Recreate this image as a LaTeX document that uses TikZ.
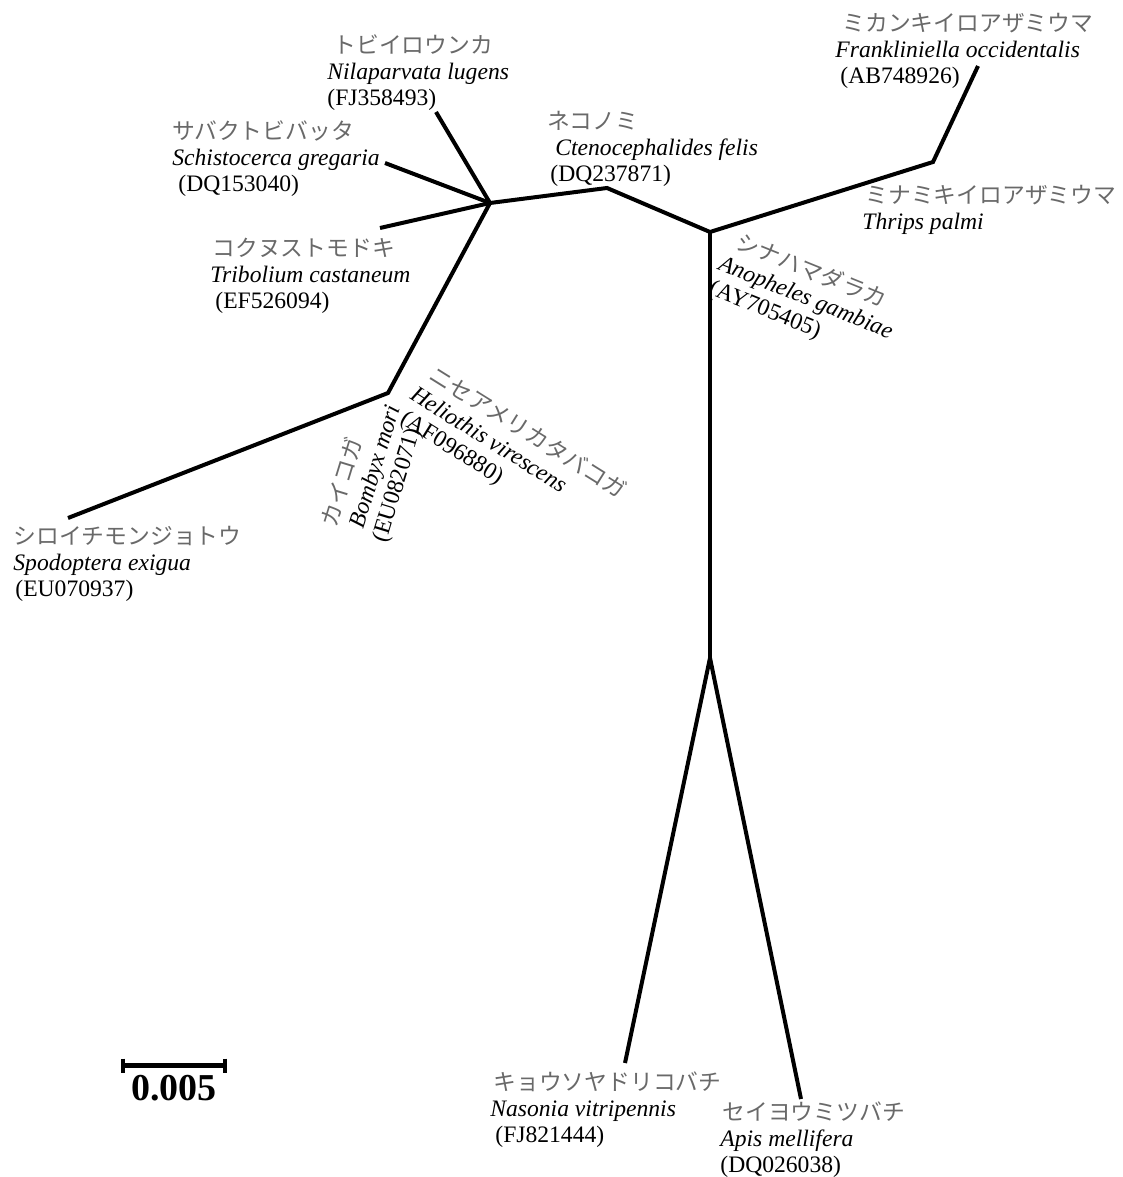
\documentclass[tikz,border=0pt]{standalone}
\usepackage{fontspec}
\setmainfont{Liberation Serif}
\newfontfamily\jpfont{Noto Sans CJK JP}
\definecolor{jpgray}{RGB}{105,105,105}
% three-line taxon label: Japanese name, species, accession
\newcommand{\jpname}[1]{{\jpfont\fontsize{11.4}{13}\selectfont\color{jpgray}#1}}
\newcommand{\taxlabel}[3]{\jpname{#1}\\\textit{#2}\\#3}

\begin{document}
\begin{tikzpicture}[x=0.5pt, y=-0.5pt,
    branch/.style={line width=2pt},
    taxon/.style={anchor=north west, inner sep=0pt, align=left,
      font=\fontsize{11.8}{13}\selectfont}]
        \useasboundingbox (0,0) rectangle (1123,1177);

        % Internal nodes
        \coordinate (A) at (490,203);
        \coordinate (B) at (388,393);
        \coordinate (C) at (607,188);
        \coordinate (D) at (710,232);
        \coordinate (E) at (933,162);
        \coordinate (F) at (710,658);

        % Tips
        \coordinate (nila) at (436,112);
        \coordinate (schi) at (385,163);
        \coordinate (trib) at (380,228);
        \coordinate (spod) at (68,518);
        \coordinate (fran) at (978,66);
        \coordinate (naso) at (625,1063);
        \coordinate (apis) at (801,1099);

        % Branches
        \draw[branch] (A) -- (nila);
        \draw[branch] (A) -- (schi);
        \draw[branch] (A) -- (trib);
        \draw[branch] (A) -- (B) -- (spod);
        \draw[branch] (A) -- (C) -- (D) -- (E) -- (fran);
        \draw[branch] (D) -- (F);
        \draw[branch] (F) -- (naso);
        \draw[branch] (F) -- (apis);

        % Labels
        \node[taxon] (lnila) at (327,34) {\taxlabel{\hspace*{3pt}トビイロウンカ}{Nilaparvata lugens}{(FJ358493)}};
        \node[taxon] (lschi) at (172,120) {\taxlabel{サバクトビバッタ}{Schistocerca gregaria}{\hspace*{3pt}(DQ153040)}};
        \node[taxon] (ltrib) at (210,238) {\taxlabel{\hspace*{1pt}コクヌストモドキ}{Tribolium castaneum}{\hspace*{2.5pt}(EF526094)}};
        \node[taxon] (lcten) at (547,111) {\taxlabel{ネコノミ}{\hspace*{4pt}Ctenocephalides felis}{\hspace*{1.5pt}(DQ237871)}};
        \node[taxon] (lfran) at (835,13) {\taxlabel{\hspace*{3.5pt}ミカンキイロアザミウマ}{Frankliniella occidentalis}{\hspace*{2.5pt}(AB748926)}};
        \node[taxon] (lthri) at (862,185) {\jpname{\hspace*{1.5pt}ミナミキイロアザミウマ}\\\textit{Thrips palmi}};
        \node[taxon, rotate=-22] (lanop) at (734,227) {\taxlabel{\hspace*{4pt}シナハマダラカ}{Anopheles gambiae}{(AY705405)}};
        \node[taxon, rotate=-32] (lheli) at (433,360) {\taxlabel{\hspace*{2.5pt}ニセアメリカタバコガ}{Heliothis virescens}{\hspace*{2pt}(AF096880)}};
        \node[taxon, rotate=73] (lbomb) at (318,523) {\taxlabel{カイコガ}{\hspace*{3.5pt}Bombyx mori}{(EU082071)}};
        \node[taxon] (lspod) at (13,526) {\taxlabel{シロイチモンジョトウ}{Spodoptera exigua}{\hspace*{1pt}(EU070937)}};
        \node[taxon] (lnaso) at (490,1071) {\taxlabel{\hspace*{1.5pt}キョウソヤドリコバチ}{Nasonia vitripennis}{\hspace*{2.5pt}(FJ821444)}};
        \node[taxon] (lapis) at (720,1101) {\taxlabel{\hspace*{1pt}セイヨウミツバチ}{Apis mellifera}{(DQ026038)}};

        % Scale bar
        \coordinate (sbl) at (123,1065);
        \coordinate (sbr) at (225,1065);
        \draw[line width=2.5pt] (sbl) -- (sbr);
        \draw[line width=2.2pt] ([yshift=3.2pt]sbl) -- ([yshift=-3.8pt]sbl);
        \draw[line width=2.2pt] ([yshift=3.2pt]sbr) -- ([yshift=-3.8pt]sbr);
        \node[font=\fontsize{19}{22}\selectfont\bfseries, inner sep=0pt] (sblabel) at (174,1088) {0.005};
    \end{tikzpicture}
\end{document}
